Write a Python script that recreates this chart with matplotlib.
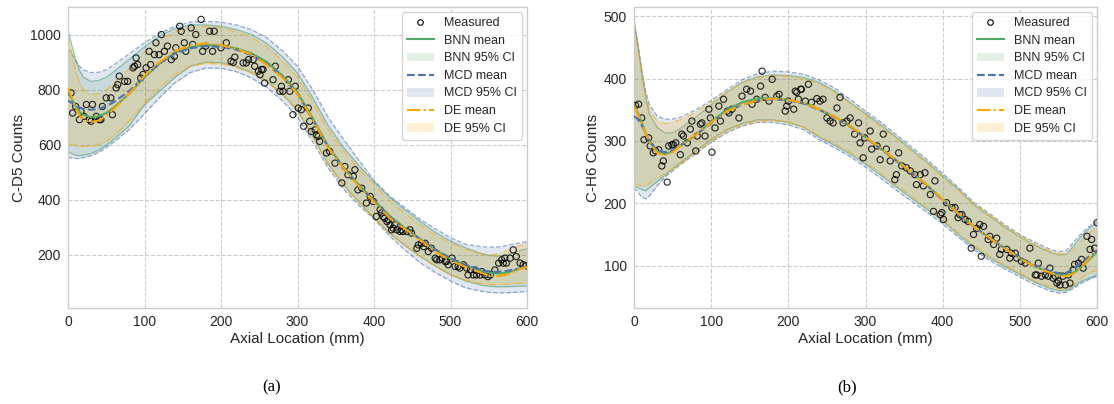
import matplotlib
matplotlib.use("Agg")
import matplotlib.pyplot as plt
from matplotlib.patches import Patch
from matplotlib.lines import Line2D

plt.rcParams['font.family'] = ['Liberation Sans', 'DejaVu Sans']

# ---------------- data ----------------
x_grid = [0, 5, 10, 15, 20, 30, 40, 50, 60, 80, 100, 120, 140, 160, 180, 200, 220, 240,
          260, 280, 300, 320, 340, 360, 380, 400, 420, 440, 460, 480, 500, 520, 540,
          550, 560, 570, 580, 590, 600]

# (a) C-D5
a_bnn_mean = [790, 765, 740, 720, 708, 700, 703, 715, 735, 785, 845, 895, 935, 955, 962, 960, 950, 932,
              900, 852, 790, 695, 595, 518, 455, 398, 342, 298, 258, 218, 186, 162, 142,
              135, 132, 134, 140, 150, 156]
a_bnn_lo = [575, 568, 562, 560, 562, 568, 580, 598, 620, 668, 745, 795, 845, 885, 900, 898, 885, 862,
            830, 785, 725, 630, 530, 455, 392, 335, 280, 235, 195, 160, 128, 105, 90,
            86, 84, 84, 85, 86, 87]
a_bnn_hi = [1015, 960, 910, 870, 845, 830, 833, 845, 865, 910, 955, 995, 1022, 1035, 1035, 1030, 1018, 1000,
            968, 920, 860, 770, 670, 590, 525, 465, 410, 365, 322, 282, 250, 225, 205,
            198, 195, 198, 205, 215, 222]
a_mcd_mean = [760, 752, 742, 735, 730, 727, 730, 740, 755, 795, 848, 895, 932, 950, 958, 955, 945, 925,
              893, 847, 785, 690, 592, 515, 452, 395, 340, 296, 258, 220, 188, 163, 145,
              140, 138, 140, 145, 150, 155]
a_mcd_lo = [555, 552, 550, 550, 553, 560, 572, 590, 610, 655, 712, 772, 825, 862, 878, 878, 865, 842,
            808, 760, 700, 610, 515, 440, 380, 330, 270, 218, 172, 136, 105, 80, 68,
            64, 62, 62, 63, 65, 67]
a_mcd_hi = [950, 930, 905, 885, 872, 862, 863, 872, 890, 930, 970, 1005, 1030, 1045, 1048, 1045, 1035, 1018,
            988, 942, 885, 800, 700, 620, 545, 470, 415, 372, 330, 295, 262, 238, 230,
            228, 228, 232, 238, 243, 248]
a_de_mean = [808, 770, 735, 708, 692, 682, 688, 705, 730, 785, 850, 900, 940, 960, 968, 962, 948, 928,
             890, 845, 785, 690, 590, 515, 450, 392, 335, 295, 255, 212, 180, 155, 135,
             125, 122, 126, 135, 148, 155]
a_de_lo = [605, 600, 596, 594, 593, 594, 600, 612, 632, 685, 750, 808, 855, 885, 895, 893, 880, 860,
           828, 782, 722, 628, 528, 452, 390, 333, 278, 235, 195, 158, 128, 108, 96,
           93, 92, 93, 95, 96, 97]
a_de_hi = [995, 930, 870, 825, 800, 782, 785, 800, 825, 875, 935, 980, 1010, 1025, 1030, 1025, 1010, 990,
           955, 905, 845, 755, 655, 578, 512, 455, 398, 352, 310, 272, 242, 220, 205,
           200, 202, 210, 222, 233, 242]

a_meas_x = [4, 6, 10, 15, 17, 21, 24, 28, 30, 32, 37, 41, 43, 45, 50, 56, 58, 63, 65, 67, 74, 78,
            85, 87, 89, 91, 95, 98, 102, 106, 108, 113, 115, 119, 122, 126, 130, 135, 139, 141,
            146, 148, 152, 154, 161, 163, 167, 174, 176, 180, 185, 189, 191, 200, 207, 213,
            216, 218, 229, 233, 236, 242, 244, 249, 251, 253, 255, 257, 268, 271, 277, 279, 281,
            288, 290, 294, 297, 301, 305, 308, 314, 316, 318, 323, 325, 327, 329, 338, 342, 349,
            358, 362, 366, 373, 375, 379, 384, 390, 395, 399, 403, 408, 410, 412, 414, 417, 419,
            421, 423, 425, 427, 430, 434, 436, 438, 443, 447, 449, 456, 458, 462, 465, 467, 471,
            475, 480, 482, 486, 489, 493, 495, 497, 502, 506, 510, 512, 517, 521, 523, 526, 530,
            532, 534, 539, 541, 545, 549, 552, 558, 563, 567, 569, 571, 573, 578, 582, 586, 591,
            595, 599]
a_meas_y = [788, 715, 739, 691, 721, 703, 746, 691, 685, 746, 703, 691, 691, 739, 770, 770, 709, 806,
            818, 849, 830, 830, 879, 885, 915, 891, 842, 855, 879, 939, 891, 927, 970, 927, 1000,
            939, 958, 909, 921, 952, 1030, 1012, 970, 939, 1024, 964, 1000, 1055, 939, 958, 1012,
            939, 1012, 952, 970, 903, 899, 918, 897, 897, 909, 909, 885, 867, 854, 873, 873, 824,
            836, 885, 794, 812, 794, 836, 794, 709, 812, 733, 727, 667, 733, 685, 648, 654, 636,
            630, 612, 570, 576, 533, 461, 521, 491, 485, 509, 436, 442, 388, 412, 394, 339, 364,
            352, 339, 333, 321, 327, 309, 291, 297, 309, 291, 285, 291, 285, 285, 291, 279, 224,
            236, 242, 230, 242, 212, 224, 188, 182, 182, 188, 176, 176, 164, 188, 158, 158, 152,
            164, 152, 127, 145, 127, 145, 127, 127, 139, 127, 121, 127, 145, 170, 182, 170, 188,
            170, 188, 218, 194, 170, 164, 160]

# (b) C-H6
b_bnn_mean = [357, 345, 330, 313, 299, 283, 279, 283, 292, 310, 331, 350, 362, 368, 369, 366, 361, 351,
              339, 324, 306, 288, 269, 250, 229, 206, 184, 163, 145, 128, 112, 98, 89,
              86, 85, 89, 98, 110, 122]
b_bnn_lo = [228, 225, 222, 220, 225, 235, 245, 256, 265, 284, 303, 318, 328, 334, 334, 330, 322, 306,
            293, 279, 263, 245, 226, 208, 190, 172, 150, 130, 113, 99, 86, 73, 63,
            60, 60, 67, 75, 80, 85]
b_bnn_hi = [495, 455, 410, 370, 343, 322, 313, 313, 320, 338, 358, 378, 394, 403, 406, 405, 402, 394,
            380, 362, 344, 326, 306, 286, 266, 244, 223, 198, 180, 162, 146, 132, 121,
            117, 118, 132, 148, 160, 169]
b_mcd_mean = [340, 335, 325, 312, 299, 285, 282, 285, 293, 309, 329, 347, 358, 365, 367, 365, 360, 350,
              338, 323, 305, 287, 268, 249, 228, 205, 183, 163, 145, 128, 113, 100, 91,
              88, 88, 95, 105, 115, 124]
b_mcd_lo = [225, 218, 210, 207, 212, 228, 242, 252, 262, 280, 298, 313, 324, 330, 330, 326, 318, 302,
            289, 275, 258, 240, 221, 203, 185, 167, 146, 126, 109, 95, 82, 69, 59,
            56, 57, 64, 72, 78, 83]
b_mcd_hi = [490, 455, 415, 380, 358, 340, 335, 335, 338, 350, 365, 382, 398, 408, 412, 411, 407, 398,
            385, 367, 348, 330, 310, 290, 270, 248, 226, 202, 184, 166, 150, 137, 126,
            122, 124, 138, 152, 163, 172]
b_de_mean = [355, 343, 328, 312, 298, 281, 277, 282, 292, 310, 330, 347, 358, 365, 368, 366, 361, 351,
             339, 324, 306, 288, 269, 250, 229, 206, 184, 163, 145, 128, 112, 98, 88,
             84, 83, 87, 98, 112, 126]
b_de_lo = [232, 230, 228, 228, 232, 240, 248, 255, 263, 282, 300, 316, 326, 332, 333, 330, 322, 308,
           296, 282, 266, 248, 229, 211, 193, 174, 153, 133, 116, 101, 88, 75, 66,
           63, 63, 70, 80, 88, 93]
b_de_hi = [488, 450, 408, 372, 350, 332, 328, 330, 334, 346, 362, 378, 393, 402, 405, 404, 400, 392,
           378, 360, 342, 323, 304, 284, 264, 242, 221, 200, 182, 164, 148, 134, 123,
           119, 119, 126, 140, 152, 162]

b_meas_x = [2, 6, 10, 13, 19, 21, 25, 28, 32, 36, 38, 43, 45, 49, 51, 54, 60, 62, 64, 69, 73, 75,
            80, 82, 86, 88, 92, 97, 99, 101, 105, 110, 112, 116, 121, 123, 127, 136, 140, 146,
            151, 153, 159, 164, 166, 170, 175, 179, 185, 188, 196, 198, 200, 207, 209, 211, 213,
            216, 217, 222, 226, 230, 237, 241, 245, 250, 254, 258, 263, 267, 271, 276, 280, 286,
            291, 293, 297, 299, 306, 308, 315, 319, 323, 327, 332, 338, 340, 343, 347, 353, 358,
            364, 366, 371, 375, 377, 384, 388, 390, 397, 399, 401, 405, 412, 416, 420, 422, 425,
            429, 433, 437, 440, 444, 448, 450, 453, 459, 461, 466, 470, 474, 476, 483, 487, 489,
            494, 496, 502, 507, 513, 520, 522, 524, 528, 533, 537, 539, 543, 546, 548, 550, 552,
            556, 559, 563, 565, 569, 571, 576, 580, 582, 587, 591, 593, 597, 600]
b_meas_y = [357, 359, 337, 302, 305, 292, 281, 284, 286, 260, 268, 234, 292, 294, 294, 297, 278, 311,
            308, 297, 319, 332, 284, 308, 327, 329, 308, 351, 337, 282, 321, 356, 332, 367, 348,
            345, 351, 337, 372, 383, 380, 359, 367, 388, 412, 370, 364, 399, 372, 375, 348, 356,
            364, 351, 380, 378, 367, 383, 383, 364, 391, 362, 368, 364, 367, 337, 332, 329, 353,
            370, 329, 332, 337, 311, 329, 297, 273, 305, 316, 287, 292, 270, 311, 287, 268, 238,
            246, 281, 260, 257, 252, 246, 230, 246, 228, 249, 214, 187, 236, 182, 185, 174, 201,
            193, 193, 177, 182, 182, 174, 171, 128, 150, 160, 166, 115, 163, 142, 147, 134, 144,
            118, 126, 126, 112, 120, 120, 112, 107, 104, 128, 85, 85, 104, 83, 85, 83, 96, 80,
            83, 72, 75, 69, 83, 69, 85, 72, 93, 102, 104, 110, 96, 147, 126, 142, 128, 169]

x_ticks = [0, 100, 200, 300, 400, 500, 600]
a_yticks = [200, 400, 600, 800, 1000]
b_yticks = [100, 200, 300, 400, 500]
labels = ["Measured", "BNN mean", "BNN 95% CI", "MCD mean", "MCD 95% CI", "DE mean", "DE 95% CI"]

# ---------------- style ----------------
C_BNN = '#55a868'
C_MCD = '#4c72b0'
C_DE = '#ffa500'
FILL_A = 0.17

fig = plt.figure(figsize=(11.14, 4.04), dpi=100)
ax_a = fig.add_axes([68 / 1114, 96 / 404, 459 / 1114, 301 / 404])
ax_b = fig.add_axes([634 / 1114, 96 / 404, 463 / 1114, 301 / 404])


def draw(ax, mx, my, bnn, mcd, de, ylabel, ylim, yticks):
    ax.set_facecolor('white')
    ax.scatter(mx, my, s=20, facecolors='none', edgecolors='black', linewidths=0.8,
               alpha=0.85, zorder=3)
    for (mean, lo, hi), col, ls in ((bnn, C_BNN, '-'), (mcd, C_MCD, '--'), (de, C_DE, '-.')):
        ax.fill_between(x_grid, lo, hi, color=col, alpha=FILL_A, linewidth=0, zorder=2)
        ax.plot(x_grid, lo, color=col, ls=ls, lw=0.9, alpha=0.6, zorder=2)
        ax.plot(x_grid, hi, color=col, ls=ls, lw=0.9, alpha=0.6, zorder=2)
    ax.plot(x_grid, bnn[0], color=C_BNN, ls='-', lw=1.5, zorder=4)
    ax.plot(x_grid, mcd[0], color=C_MCD, ls='--', lw=1.5, zorder=4)
    ax.plot(x_grid, de[0], color=C_DE, ls='-.', lw=1.5, zorder=4)

    ax.set_xlim(0, 600)
    ax.set_ylim(*ylim)
    ax.set_xticks(x_ticks)
    ax.set_yticks(yticks)
    ax.grid(True, color='#cccccc', ls='--', lw=0.8)
    ax.set_axisbelow(True)
    for s in ax.spines.values():
        s.set_color('#cccccc')
        s.set_linewidth(1.0)
    ax.tick_params(length=0, labelsize=10, colors='#262626', pad=5)
    ax.set_xlabel("Axial Location (mm)", fontsize=11, color='#262626', labelpad=2)
    ax.set_ylabel(ylabel, fontsize=11, color='#262626', labelpad=3)

    handles = [
        Line2D([], [], ls='none', marker='o', markersize=4, markerfacecolor='none',
               markeredgecolor='black', markeredgewidth=0.8),
        Line2D([], [], color=C_BNN, lw=1.5, ls='-'),
        Patch(facecolor=C_BNN, alpha=FILL_A, edgecolor='none'),
        Line2D([], [], color=C_MCD, lw=1.5, ls='--'),
        Patch(facecolor=C_MCD, alpha=FILL_A, edgecolor='none'),
        Line2D([], [], color=C_DE, lw=1.5, ls='-.'),
        Patch(facecolor=C_DE, alpha=FILL_A, edgecolor='none'),
    ]
    leg = ax.legend(handles, labels, loc='upper right', fontsize=9, frameon=True,
                    borderaxespad=0.4, labelspacing=0.45, handlelength=2.2)
    leg.get_frame().set_edgecolor('#cccccc')
    for t in leg.get_texts():
        t.set_color('#262626')


draw(ax_a, a_meas_x, a_meas_y, (a_bnn_mean, a_bnn_lo, a_bnn_hi),
     (a_mcd_mean, a_mcd_lo, a_mcd_hi), (a_de_mean, a_de_lo, a_de_hi),
     "C-D5 Counts", (7, 1100), a_yticks)
draw(ax_b, b_meas_x, b_meas_y, (b_bnn_mean, b_bnn_lo, b_bnn_hi),
     (b_mcd_mean, b_mcd_lo, b_mcd_hi), (b_de_mean, b_de_lo, b_de_hi),
     "C-H6 Counts", (32, 515), b_yticks)

fig.text(272 / 1114, 1 - 387 / 404, "(a)", fontsize=12, family=['Liberation Serif', 'DejaVu Serif'],
         ha='center', va='center')
fig.text(847 / 1114, 1 - 387 / 404, "(b)", fontsize=12, family=['Liberation Serif', 'DejaVu Serif'],
         ha='center', va='center')

fig.savefig("out.png", dpi=100, facecolor='white')
